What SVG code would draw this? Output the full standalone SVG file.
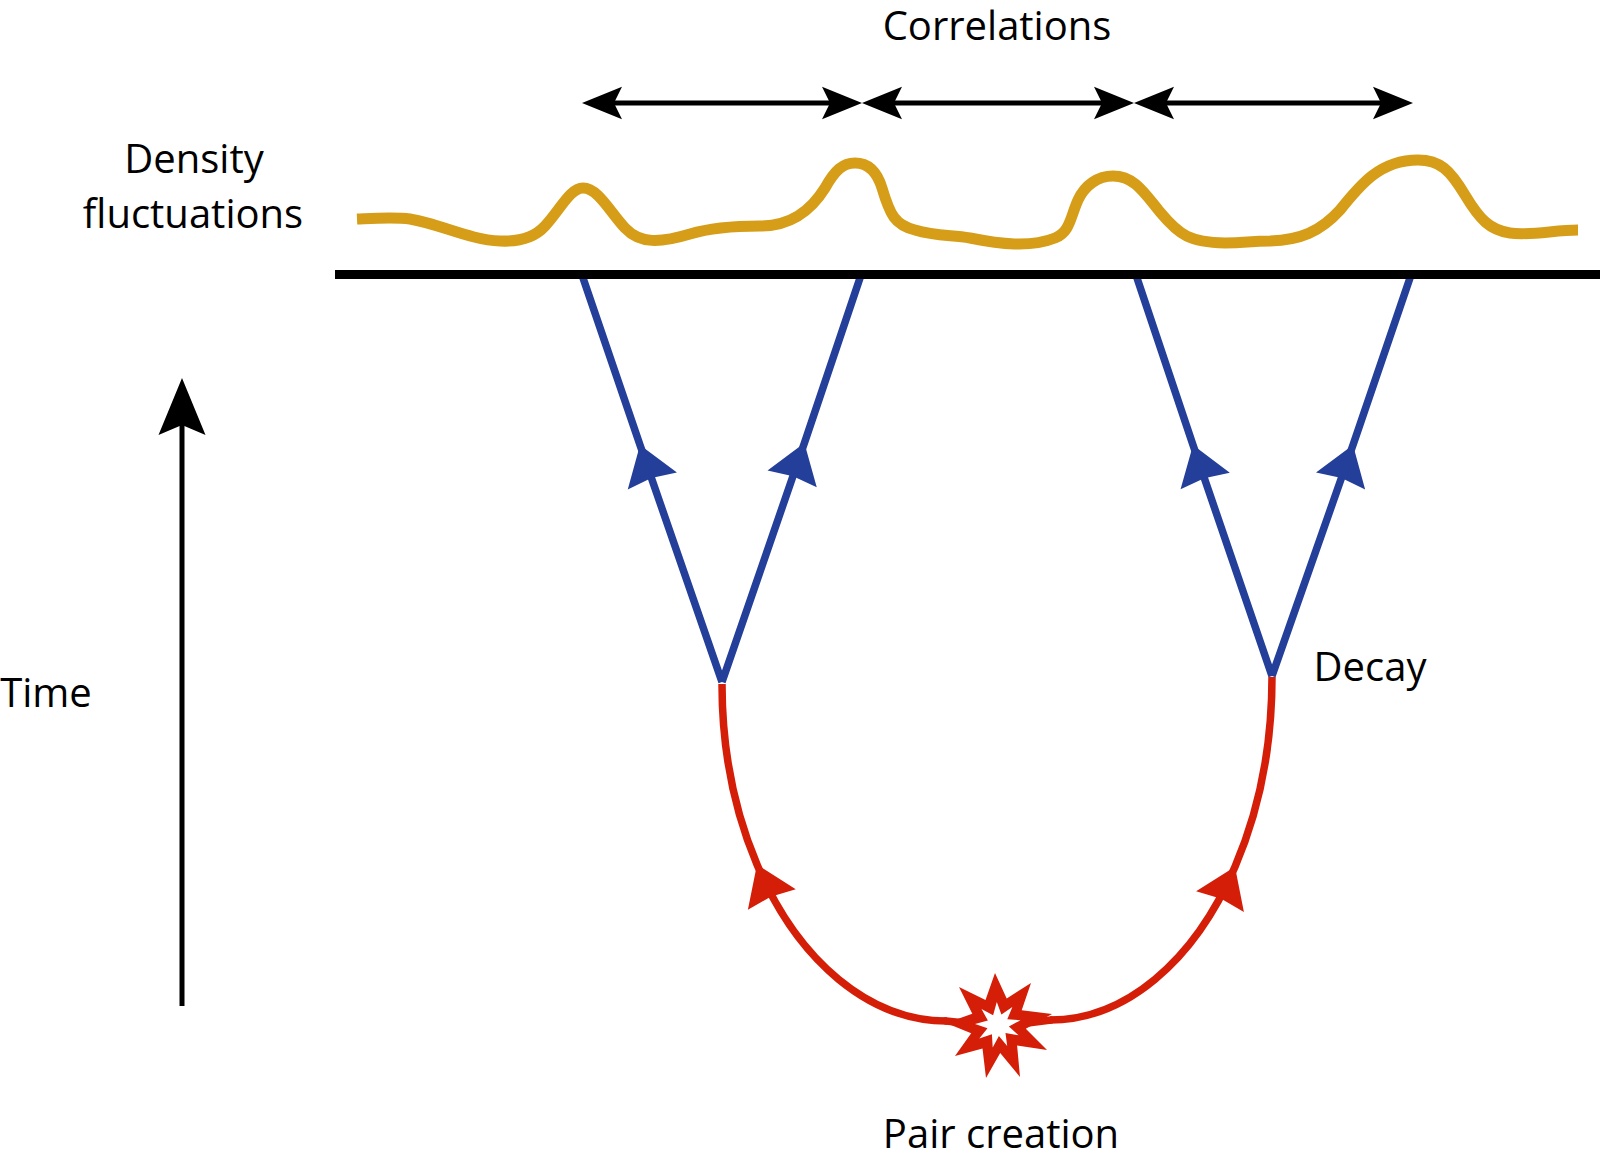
<svg xmlns="http://www.w3.org/2000/svg" width="1600" height="1163" viewBox="0 0 1600 1163">
  <style>
    .lbl { font-family: "Open Sans", "Liberation Sans", sans-serif; font-size: 40px; fill: #000; text-anchor: middle; }
    .blue { fill: none; stroke: #243F99; stroke-width: 7.5; marker-mid: url(#bh); }
    .red { fill: none; stroke: #D41E08; stroke-width: 7.5; marker-mid: url(#rh); }
    .join { fill: none; stroke: #D41E08; stroke-width: 7.5; stroke-linecap: round; }
    .dbl { stroke: #000; stroke-width: 5; marker-start: url(#kh); marker-end: url(#kh); }
  </style>
  <defs>
    <marker id="kh" markerUnits="userSpaceOnUse" viewBox="-10 -20 45 40" markerWidth="45" markerHeight="40" refX="0" refY="0" orient="auto-start-reverse" overflow="visible">
      <path d="M32,0 L-8,-16.3 L0,0 L-8,16.3 Z" fill="#000"/>
    </marker>
    <marker id="bh" markerUnits="userSpaceOnUse" viewBox="-40 -28 42 56" markerWidth="42" markerHeight="56" refX="0" refY="0" orient="auto" overflow="visible">
      <path d="M0,0 L-38,-26 L-35,0 L-38,26 Z" fill="#243F99"/>
    </marker>
    <marker id="rh" markerUnits="userSpaceOnUse" viewBox="-40 -28 42 56" markerWidth="42" markerHeight="56" refX="0" refY="0" orient="auto" overflow="visible">
      <path d="M0,0 L-38,-26 L-35,0 L-38,26 Z" fill="#D41E08"/>
    </marker>
    <marker id="th" markerUnits="userSpaceOnUse" viewBox="-15 -25 65 50" markerWidth="65" markerHeight="50" refX="0" refY="0" orient="auto" overflow="visible">
      <path d="M47,0 L-10,-23.5 L0,0 L-10,23.5 Z" fill="#000"/>
    </marker>
  </defs>

  <g id="labels">
    <text id="correlations" class="lbl" x="997" y="40">Correlations</text>
    <text id="density" class="lbl" x="194" y="173">Density</text>
    <text id="fluctuations" class="lbl" x="193" y="228">fluctuations</text>
    <text id="time" class="lbl" x="46" y="707">Time</text>
    <text id="decay" class="lbl" x="1370" y="681">Decay</text>
    <text id="pair-creation" class="lbl" x="1001" y="1148">Pair creation</text>
  </g>

  <g id="density-wave">
    <path d="M357,219 C380,218 395,217 410,219 C440,224 470,240 500,241 C520,242 535,237 545,226 C560,210 570,188 583,188 C598,188 610,212 625,228 C640,244 660,243 690,234 C710,228 740,226 760,226 C790,226 810,212 825,188 C835,170 843,163 855,163 C870,163 878,175 882,188 C890,215 895,225 915,230 C935,236 950,235 970,238 C1000,244 1030,248 1055,238 C1070,232 1070,218 1078,200 C1085,185 1098,176 1113,176 C1135,176 1145,194 1160,212 C1180,236 1190,242 1225,243 C1245,243 1250,241 1270,241 C1300,240 1320,232 1340,210 C1360,185 1380,160 1418,160 C1440,160 1450,170 1465,195 C1480,220 1490,230 1510,233 C1530,236 1555,230 1578,230" fill="none" stroke="#D69D18" stroke-width="11"/>
  </g>

  <g id="connectors">
    <line class="dbl" x1="614" y1="103" x2="830" y2="103"/>
    <line class="dbl" x1="894" y1="103" x2="1102" y2="103"/>
    <line class="dbl" x1="1166" y1="103" x2="1381" y2="103"/>

    <line x1="182" y1="1006" x2="182" y2="425" stroke="#000" stroke-width="5" marker-end="url(#th)"/>

    <polyline class="blue" points="722,682 640,445 582,275"/>
    <polyline class="blue" points="722,682 804.4,443 861,275"/>
    <polyline class="blue" points="1272,676 1193,445 1136,275"/>
    <polyline class="blue" points="1272,676 1353,445 1411,275"/>

    <path class="red" d="M947,1021 A225,337 0 0,1 757,864.5 A225,337 0 0,1 722,684"/>
    <path class="red" d="M1050,1020 A222,343 0 0,0 1235,866.7 A222,343 0 0,0 1272,677"/>
    <path class="join" d="M946,1021 L975,1024"/>
    <path class="join" d="M1051,1020 L1020,1024"/>
  </g>

  <g id="surface">
    <line x1="335" y1="274.5" x2="1600" y2="274.5" stroke="#000" stroke-width="9"/>
  </g>

  <g id="pair-creation-star">
    <polygon fill="#D41E08" points="995,973 1006.7,998.4 1031,983 1021.7,1010.2 1052,1014 1025.8,1028.7 1047,1050 1017.1,1045.5 1020,1077 1000.2,1052.9 986,1078 982.5,1048.4 955,1056 971.2,1033.2 946,1023 972.3,1013.8 959,987 985.5,999.9"/>
    <polygon fill="#fff" points="996.8,1002 1001.4,1014.5 1012.4,1007.1 1007.3,1019.2 1020.5,1020.3 1008.9,1026.4 1018.6,1035.3 1005.5,1033 1007.2,1046.1 998.9,1036 992.7,1047.4 991.9,1034.2 979.3,1038.4 987.5,1028.2 975,1024.1 987.9,1020.6 981.5,1009 993.1,1015.2"/>
  </g>
</svg>
